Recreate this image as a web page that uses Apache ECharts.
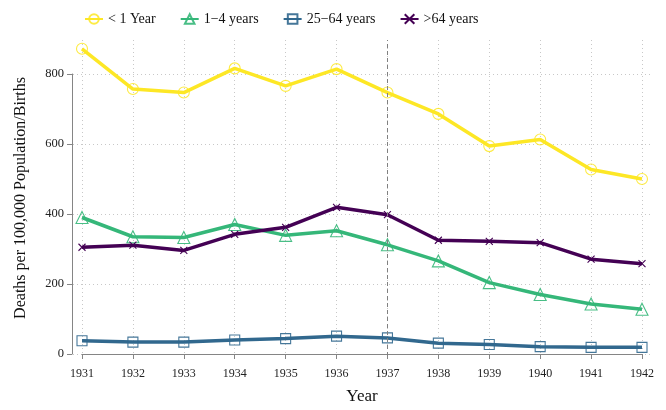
<!DOCTYPE html>
<html>
<head>
<meta charset="utf-8">
<script src="https://cdn.jsdelivr.net/npm/echarts@6/dist/echarts.min.js"></script>
<style>
  html, body { margin: 0; padding: 0; background: #fff; }
  #chart { width: 666px; height: 410px; }
</style>
</head>
<body>
<div id="chart"></div>
<script>
// values
var years = [1931, 1932, 1933, 1934, 1935, 1936, 1937, 1938, 1939, 1940, 1941, 1942];
var under1 = [872, 757, 747, 816, 766, 814, 747, 686, 594, 613, 527, 500];
var age1to4 = [390, 335, 333, 370, 339, 352, 312, 266, 204, 170, 143, 128];
var age25to64 = [38, 34, 34, 40, 44, 51, 46, 31, 27, 21, 19, 19];
var over64 = [305, 311, 296, 342, 362, 419, 398, 325, 322, 318, 271, 258];
var seriesNames = ['< 1 Year', '1\u22124 years', '25\u221264 years', '>64 years'];
var breakYear = 1937;

var FONT = '"Liberation Serif", "DejaVu Serif", serif';
var AXIS_GREY = '#858585';
var GRID_GREY = '#c8c8c8';

function pairs(vals) {
    return years.map(function (y, i) { return [y, vals[i]]; });
}

function lineSeries(name, vals, color, symbol, size, borderColor) {
    return {
        name: name,
        type: 'line',
        xAxisIndex: 0,
        yAxisIndex: 0,
        data: pairs(vals),
        clip: false,
        symbol: symbol,
        symbolSize: size,
        lineStyle: { color: color, width: 3.5 },
        itemStyle: { color: 'rgba(0,0,0,0)', borderColor: borderColor, borderWidth: 1.1 },
        emphasis: { disabled: true },
        z: 3
    };
}

var chart = echarts.init(document.getElementById('chart'));

var option = {
    animation: false,
    backgroundColor: '#fff',
    legend: {
        data: seriesNames,
        left: 79,
        top: 7,
        itemWidth: 18,
        itemHeight: 12,
        itemGap: 24,
        textStyle: { fontFamily: FONT, fontSize: 14, color: '#111' }
    },
    grid: [
        { left: 82, right: 24, top: 74, bottom: 56 },   // data + axes
        { left: 82, right: 24, top: 40, bottom: 50 },   // vertical grid lines, names
        { left: 73, right: 14, top: 74, bottom: 56 }    // horizontal grid lines
    ],
    xAxis: [
        {
            gridIndex: 0, type: 'value', min: 1931, max: 1942, interval: 1, offset: 9,
            axisLine: { show: true, lineStyle: { color: AXIS_GREY, width: 1 } },
            axisTick: { show: true, length: 5, lineStyle: { color: AXIS_GREY } },
            axisLabel: { fontFamily: FONT, fontSize: 12, color: '#222', margin: 5,
                formatter: function (v) { return String(v); } },
            splitLine: { show: false }
        },
        {
            gridIndex: 1, type: 'value', min: 1931, max: 1942, interval: 1,
            axisLine: { show: false }, axisTick: { show: false }, axisLabel: { show: false },
            splitLine: { show: true, lineStyle: { color: GRID_GREY, type: [1, 3], width: 1 } },
            name: 'Year', nameLocation: 'middle', nameGap: 32,
            nameTextStyle: { fontFamily: FONT, fontSize: 17, color: '#111' }
        },
        { gridIndex: 2, type: 'value', show: false }
    ],
    yAxis: [
        {
            gridIndex: 0, type: 'value', min: 0, max: 800, interval: 200, offset: 10,
            axisLine: { show: true, lineStyle: { color: AXIS_GREY, width: 1 } },
            axisTick: { show: true, length: 5, lineStyle: { color: AXIS_GREY } },
            axisLabel: { fontFamily: FONT, fontSize: 12.5, color: '#222', margin: 8 },
            splitLine: { show: false }
        },
        {
            gridIndex: 1, type: 'value', min: 0, max: 1,
            axisLine: { show: false }, axisTick: { show: false }, axisLabel: { show: false },
            splitLine: { show: false },
            name: 'Deaths per 100,000 Population/Births', nameLocation: 'middle', nameGap: 53,
            nameTextStyle: { fontFamily: FONT, fontSize: 16, color: '#111' }
        },
        {
            gridIndex: 2, type: 'value', min: 0, max: 800, interval: 200,
            axisLine: { show: false }, axisTick: { show: false }, axisLabel: { show: false },
            splitLine: { show: true, lineStyle: { color: GRID_GREY, type: [1, 3], width: 1 } }
        }
    ],
    series: [
        {
            type: 'line', xAxisIndex: 1, yAxisIndex: 1, data: [], z: 1,
            markLine: {
                silent: true, symbol: 'none', label: { show: false },
                lineStyle: { color: '#808080', type: [4, 3], width: 1 },
                data: [{ xAxis: breakYear }]
            }
        },
        lineSeries(seriesNames[0], under1, '#FDE725', 'circle', 11, 'rgba(253,231,37,0.85)'),
        lineSeries(seriesNames[1], age1to4, '#35B779', 'triangle', 12, 'rgba(53,183,121,0.9)'),
        lineSeries(seriesNames[2], age25to64, '#31688E', 'rect', 10, 'rgba(49,104,142,0.9)'),
        lineSeries(seriesNames[3], over64, '#440154', 'path://M0,0L10,10M10,0L0,10', 7, '#440154')
    ]
};

chart.setOption(option);
</script>
</body>
</html>
